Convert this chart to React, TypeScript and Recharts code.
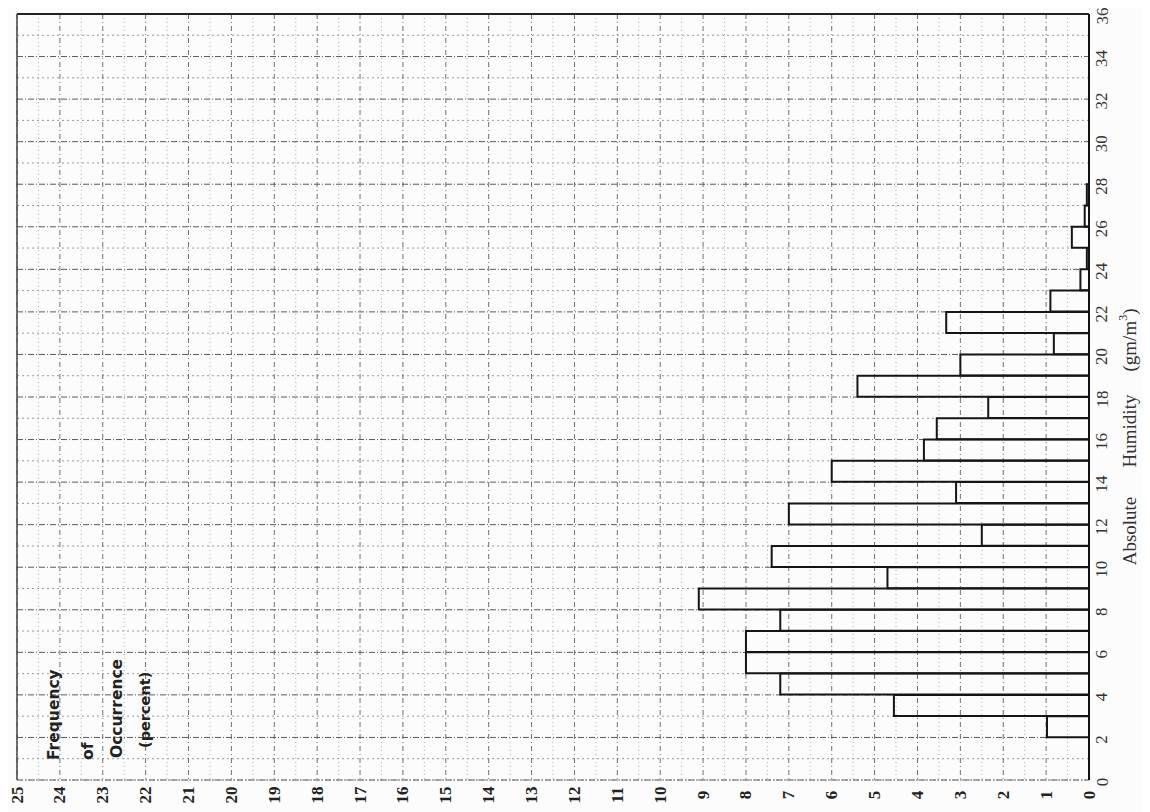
import React from 'react';
import { BarChart, Bar, XAxis, YAxis, CartesianGrid } from 'recharts';

// Histogram bins of absolute humidity (gm/m3): bin start values 0..35
const binStarts = [
  0, 1, 2, 3, 4, 5, 6, 7, 8, 9, 10, 11, 12, 13, 14, 15, 16, 17,
  18, 19, 20, 21, 22, 23, 24, 25, 26, 27, 28, 29, 30, 31, 32, 33, 34, 35,
];
// Frequency of occurrence (percent) per bin
const frequencies = [
  0, 0, 0.98, 4.55, 7.2, 8.0, 8.0, 7.2, 9.1, 4.7, 7.4, 2.5, 7.0, 3.1, 6.0, 3.85, 3.55, 2.35,
  5.4, 3.0, 0.82, 3.33, 0.9, 0.2, 0.05, 0.4, 0.1, 0.05, 0, 0, 0, 0, 0, 0, 0, 0,
];
const humidityTicks = [0, 2, 4, 6, 8, 10, 12, 14, 16, 18, 20, 22, 24, 26, 28, 30, 32, 34, 36];
const frequencyTicks = [
  0, 1, 2, 3, 4, 5, 6, 7, 8, 9, 10, 11, 12, 13, 14, 15, 16, 17, 18, 19, 20, 21, 22, 23, 24, 25,
];
const minorFrequencyLines = frequencyTicks.slice(0, 25).map((v) => v + 0.5);
const oddHumidityLines = binStarts.filter((v) => v % 2 === 1);

const data = binStarts.map((h, i) => ({ bin: `${h}-${h + 1}`, start: h, freq: frequencies[i] }));

const W = 1142;
const H = 804;

const FreqTick = (props: any) => {
  const { x, y, payload } = props;
  const ty = y + 15;
  return (
    <text
      x={x}
      y={ty}
      transform={`rotate(-90 ${x} ${ty})`}
      textAnchor="middle"
      dominantBaseline="central"
      fontFamily="'Liberation Serif', serif"
      fontWeight="bold"
      fontSize={17}
      fill="#222"
    >
      {payload.value}
    </text>
  );
};

const HumTick = (props: any) => {
  const { x, y, payload } = props;
  const tx = x + 13;
  const ty = y + 2;
  return (
    <text
      x={tx}
      y={ty}
      transform={`rotate(-90 ${tx} ${ty})`}
      textAnchor="middle"
      dominantBaseline="central"
      fontFamily="'Liberation Serif', serif"
      fontSize={17}
      fill="#333"
    >
      {payload.value}
    </text>
  );
};

const RotText = ({ x, y, children, ...rest }: any) => (
  <text
    x={x}
    y={y}
    transform={`rotate(-90 ${x} ${y})`}
    dominantBaseline="central"
    {...rest}
  >
    {children}
  </text>
);

export default function App() {
  return (
    <div style={{ position: 'relative', width: W, height: H, background: '#fcfcfc' }}>
      <BarChart
        width={W}
        height={H}
        data={data}
        layout="vertical"
        barCategoryGap={0}
        style={{ overflow: 'visible' }}
        margin={{ top: 6, right: 6, bottom: 4, left: 9 }}
      >
        <CartesianGrid
          yAxisId="num"
          horizontal={false}
          verticalValues={minorFrequencyLines}
          stroke="#b0b0b0"
          strokeDasharray="1 3"
          fill="none"
        />
        <CartesianGrid
          yAxisId="num"
          vertical={false}
          horizontalValues={oddHumidityLines}
          stroke="#999"
          strokeDasharray="2 3"
          fill="none"
        />
        <CartesianGrid
          yAxisId="num"
          horizontal={false}
          verticalValues={frequencyTicks}
          stroke="#707070"
          strokeDasharray="5 3 1 3"
          fill="none"
        />
        <CartesianGrid
          yAxisId="num"
          vertical={false}
          horizontalValues={humidityTicks}
          stroke="#5a5a5a"
          strokeDasharray="6 2 1 2"
          fill="none"
        />
        <XAxis
          type="number"
          dataKey="freq"
          domain={[0, 25]}
          allowDataOverflow
          reversed
          ticks={frequencyTicks}
          interval={0}
          height={28}
          tickSize={0}
          tickMargin={0}
          tickLine={false}
          axisLine={{ stroke: '#888', strokeDasharray: '2 2' }}
          tick={<FreqTick />}
        />
        <YAxis yAxisId="cat" type="category" dataKey="bin" reversed hide />
        <YAxis
          yAxisId="num"
          type="number"
          dataKey="start"
          orientation="right"
          domain={[0, 36]}
          allowDataOverflow
          reversed
          ticks={humidityTicks}
          interval={0}
          width={55}
          tickSize={0}
          tickMargin={0}
          tickLine={false}
          axisLine={{ stroke: '#111', strokeWidth: 2 }}
          tick={<HumTick />}
        />
        <Bar
          dataKey="freq"
          yAxisId="cat"
          fill="none"
          stroke="#151515"
          strokeWidth={2}
          isAnimationActive={false}
        />
      </BarChart>
      <svg
        width={W}
        height={H}
        style={{ position: 'absolute', left: 0, top: 0, pointerEvents: 'none' }}
      >
        <line x1={9} y1={6} x2={1081} y2={6} stroke="#222" strokeWidth={2} />
        <line x1={9} y1={6} x2={9} y2={772} stroke="#444" strokeWidth={1.5} />
        <g fontFamily="'DejaVu Sans', sans-serif" fontWeight="bold" fill="#222">
          <RotText x={46} y={752} fontSize={15.5}>Frequency</RotText>
          <RotText x={80} y={752} fontSize={15.5}>of</RotText>
          <RotText x={109} y={750} fontSize={15.5}>Occurrence</RotText>
          <RotText x={137} y={740} fontSize={14.5}>(percent)</RotText>
        </g>
        <g fontFamily="'Liberation Serif', serif" fontSize={19} fill="#333">
          <RotText x={1121} y={523} textAnchor="middle">Absolute</RotText>
          <RotText x={1121} y={423} textAnchor="middle">Humidity</RotText>
          <RotText x={1121} y={332} textAnchor="middle">
            (gm/m<tspan dy={-6} fontSize={12}>3</tspan>
            <tspan dy={6}>)</tspan>
          </RotText>
        </g>
      </svg>
    </div>
  );
}
